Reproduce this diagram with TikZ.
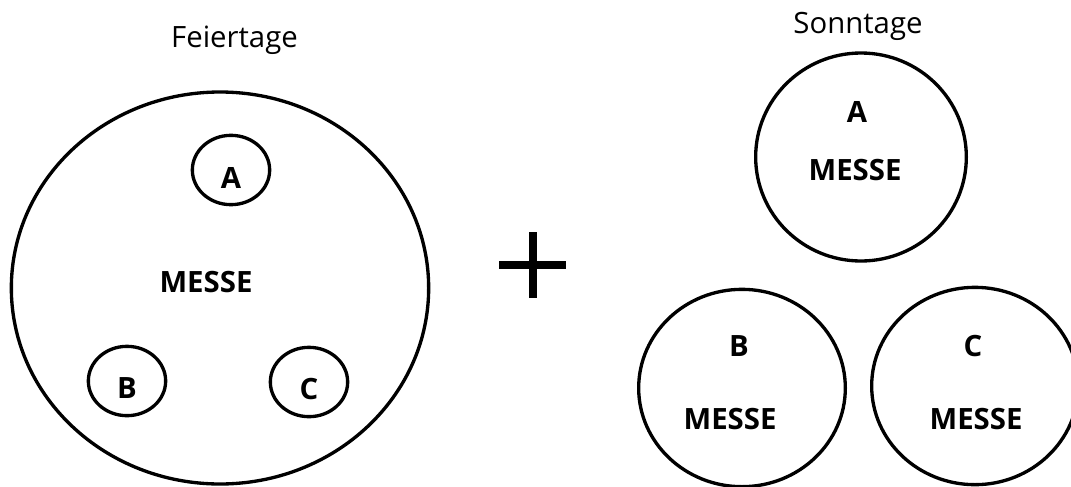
\documentclass[tikz,border=0pt]{standalone}
\usepackage{fontspec}
\setmainfont{Open Sans}
\usetikzlibrary{shapes.geometric}

\begin{document}
\begin{tikzpicture}[x=0.75pt, y=-0.75pt,
	ring/.style={draw, ellipse, line width=2.5pt, inner sep=0pt},
	tag/.style={anchor=base, font=\fontsize{22}{22}\selectfont},
	lbl/.style={anchor=base, font=\bfseries\fontsize{22}{22}\selectfont}]
	\useasboundingbox (0,0) rectangle (1071,486);
	% Feiertage
	\node[tag] (feier) at (234.5,47) {Feiertage};
	\node[ring, minimum width=313pt, minimum height=294pt] (big) at (220,288) {};
	\node[lbl] (messe) at (206,292) {MESSE};
	\node[ring, minimum width=58pt, minimum height=52pt] (ringA) at (231,170) {};
	\node[ring, minimum width=58pt, minimum height=52pt] (ringB) at (127,381) {};
	\node[ring, minimum width=58pt, minimum height=52pt] (ringC) at (309,382) {};
	\node[lbl] (lA) at (231,188) {A};
	\node[lbl] (lB) at (127,398) {B};
	\node[lbl] (lC) at (309,399) {C};
	% plus
	\draw[line width=6pt] (499,265) -- (566,265);
	\draw[line width=6pt] (533,232) -- (533,298);
	% Sonntage
	\node[tag] (sonn) at (858,33) {Sonntage};
	\node[ring, minimum width=158pt, minimum height=156pt] (sunA) at (861,157) {};
	\node[ring, minimum width=155pt, minimum height=148pt] (sunB) at (742,388) {};
	\node[ring, minimum width=155pt, minimum height=148pt] (sunC) at (975,386) {};
	\node[lbl] (sA) at (857,122) {A};
	\node[lbl] (mA) at (855,180) {MESSE};
	\node[lbl] (sB) at (739,356) {B};
	\node[lbl] (mB) at (730,429) {MESSE};
	\node[lbl] (sC) at (973,356) {C};
	\node[lbl] (mC) at (976,429) {MESSE};
\end{tikzpicture}
\end{document}
